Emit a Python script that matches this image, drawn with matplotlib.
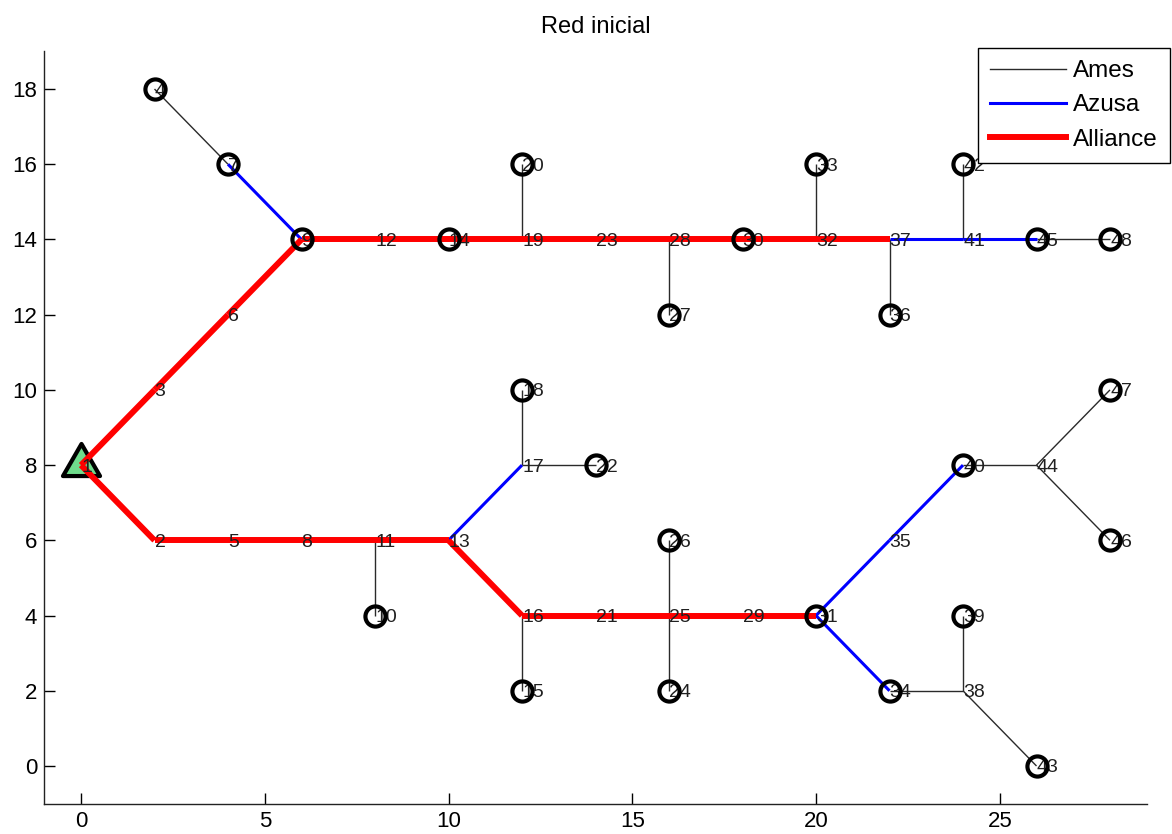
import matplotlib
matplotlib.use("Agg")
import matplotlib.pyplot as plt
from matplotlib.lines import Line2D
from matplotlib.path import Path

plt.rcParams['font.family'] = ['Liberation Sans', 'DejaVu Sans']

# Node coordinates (node i -> index i-1)
node_x = [0, 2, 2, 2, 4, 4, 4, 6, 6, 8,
          8, 8, 10, 10, 12, 12, 12, 12, 12, 12,
          14, 14, 14, 16, 16, 16, 16, 16, 18, 18,
          20, 20, 20, 22, 22, 22, 22, 24, 24, 24,
          24, 24, 26, 26, 26, 28, 28, 28]
node_y = [8, 6, 10, 18, 6, 12, 16, 6, 14, 4,
          6, 14, 6, 14, 2, 4, 8, 10, 14, 16,
          4, 8, 14, 2, 4, 6, 12, 14, 4, 14,
          4, 14, 16, 2, 6, 12, 14, 2, 4, 8,
          14, 16, 0, 8, 14, 6, 10, 14]

source_node = 1
circle_nodes = [4, 7, 9, 10, 14, 15, 18, 20, 22, 24, 26, 27, 30, 31,
                33, 34, 36, 39, 40, 42, 43, 45, 46, 47, 48]

ames_edges = [(7, 4), (19, 20), (28, 27), (32, 33), (37, 36), (41, 42),
              (45, 48), (11, 10), (17, 18), (17, 22), (16, 15), (25, 26),
              (25, 24), (34, 38), (38, 39), (38, 43), (40, 44), (44, 47),
              (44, 46)]
azusa_edges = [(9, 7), (13, 17), (31, 35), (35, 40), (31, 34), (37, 41),
               (41, 45)]
alliance_edges = [(1, 3), (3, 6), (6, 9), (9, 12), (12, 14), (14, 19),
                  (19, 23), (23, 28), (28, 30), (30, 32), (32, 37),
                  (1, 2), (2, 5), (5, 8), (8, 11), (11, 13), (13, 16),
                  (16, 21), (21, 25), (25, 29), (29, 31)]

x_ticks = [0, 5, 10, 15, 20, 25]
y_ticks = [0, 2, 4, 6, 8, 10, 12, 14, 16, 18]

fig = plt.figure(figsize=(11.72, 8.34), dpi=100)
ax = fig.add_axes([0.03776, 0.03645, 0.9407, 0.9019])


def draw_edges(edges, color, lw, z):
    for a, b in edges:
        ax.plot([node_x[a - 1], node_x[b - 1]], [node_y[a - 1], node_y[b - 1]],
                color=color, lw=lw, solid_capstyle='butt', zorder=z)


draw_edges(ames_edges, '#2a2a2a', 1.0, 2)
draw_edges(azusa_edges, '#0000ff', 2.2, 2.1)
draw_edges(alliance_edges, '#ff0000', 4.3, 2.2)

# source triangle (below lines), MATLAB-style: centroid-offset upward
tri = Path([(0, 1), (-0.86, -0.49), (0.86, -0.49), (0, 1)],
           [Path.MOVETO, Path.LINETO, Path.LINETO, Path.CLOSEPOLY])
ax.plot([node_x[source_node - 1]], [node_y[source_node - 1]], marker=tri,
        markersize=31, markerfacecolor='#6fdc8c', markeredgecolor='black',
        markeredgewidth=3.0, linestyle='none', zorder=1.5)

# node labels
for i, (x, y) in enumerate(zip(node_x, node_y)):
    ax.text(x, y, str(i + 1), ha='left', va='center_baseline', fontsize=14,
            color='#202020', zorder=3)

# circles
cx = [node_x[n - 1] for n in circle_nodes]
cy = [node_y[n - 1] for n in circle_nodes]
ax.plot(cx, cy, 'o', markersize=14.5, markerfacecolor='none',
        markeredgecolor='black', markeredgewidth=3.0, zorder=4)

ax.set_xlim(-1, 29)
ax.set_ylim(-1, 19)
ax.set_xticks(x_ticks)
ax.set_yticks(y_ticks)
ax.tick_params(direction='in', length=8, width=1, labelsize=16, pad=5,
               colors='black')
for s in ['top', 'right']:
    ax.spines[s].set_visible(False)
for s in ['left', 'bottom']:
    ax.spines[s].set_linewidth(1.0)
    ax.spines[s].set_color('#222222')

ax.set_title('Red inicial', fontsize=17, pad=13)

handles = [Line2D([], [], color='#2a2a2a', lw=1.0),
           Line2D([], [], color='#0000ff', lw=2.2),
           Line2D([], [], color='#ff0000', lw=4.3)]
leg = fig.legend(handles, ['Ames', 'Azusa', 'Alliance'], loc='upper right',
                 bbox_to_anchor=(1170 / 1172, 1 - 48 / 834), fontsize=17.5,
                 handlelength=3.1, handletextpad=0.3, labelspacing=0.5,
                 borderpad=0.5, borderaxespad=0, fancybox=False,
                 framealpha=1, edgecolor='black')
leg.get_frame().set_linewidth(1.0)

fig.savefig('out.png', dpi=100)
